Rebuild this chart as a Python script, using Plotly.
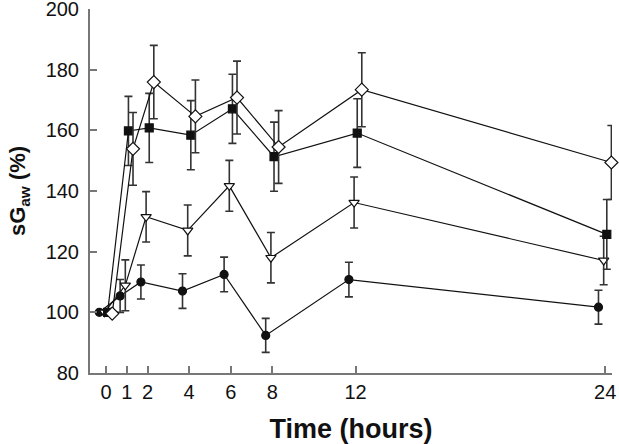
import plotly.graph_objects as go

times = [0, 1, 2, 4, 6, 8, 12, 24]
tick_labels = ["0", "1", "2", "4", "6", "8", "12", "24"]

circle_vals = [100, 105.4, 110, 107, 112.5, 92.4, 110.8, 101.7]
circle_err = [0, 5.4, 5.6, 5.7, 5.7, 5.6, 5.7, 5.6]

tri_vals = [100, 108.9, 131.5, 127, 141.7, 118, 136.2, 117.1]
tri_err = [0, 8.4, 8.3, 8.4, 8.4, 8.3, 8.4, 8.0]

square_vals = [100, 159.8, 160.8, 158.4, 167.1, 151.3, 159.1, 125.7]
square_err = [0, 11.4, 11.4, 11.4, 11.4, 11.4, 11.3, 11.5]

diamond_vals = [99.6, 153.9, 175.9, 164.6, 170.8, 154.5, 173.4, 149.4]
diamond_err = [0, 12, 12.1, 12, 12, 12, 12.2, 12.2]

# horizontal jitter of each group around the nominal time
offsets = {"circle": -0.32, "tri": -0.07, "square": 0.08, "diamond": 0.3}

fig = go.Figure()

def add(vals, err, off, symbol, size, fill):
    fig.add_trace(go.Scatter(
        x=[t + off for t in times], y=vals,
        mode="lines+markers",
        line=dict(color="#111", width=1.2),
        marker=dict(symbol=symbol, size=size, color=fill,
                    line=dict(color="#111", width=1.2)),
        error_y=dict(type="data", array=err, visible=True,
                     color="#333", thickness=1.6, width=4),
        cliponaxis=False,
        showlegend=False,
    ))

add(circle_vals, circle_err, offsets["circle"], "circle", 8, "#111")
add(tri_vals, tri_err, offsets["tri"], "triangle-down", 9, "white")
add(square_vals, square_err, offsets["square"], "square", 8, "#111")
add(diamond_vals, diamond_err, offsets["diamond"], "diamond", 10, "white")

font_family = "Arial, Liberation Sans, sans-serif"

fig.update_layout(
    width=619, height=444,
    margin=dict(l=90, r=7, t=9, b=71),
    plot_bgcolor="white", paper_bgcolor="white",
    font=dict(family=font_family, size=20, color="#111"),
    xaxis=dict(
        range=[-0.768, 24.33],
        tickmode="array", tickvals=times, ticktext=tick_labels,
        ticks="inside", ticklen=7, tickcolor="#777", tickwidth=1.5,
        showline=True, linecolor="#777", linewidth=2,
        showgrid=False, zeroline=False, automargin=False,
        ticklabeloverflow="allow",
        tickfont=dict(size=20),
        title=dict(text="<b>Time (hours)</b>", font=dict(size=27), standoff=19),
    ),
    yaxis=dict(
        range=[80, 200],
        tickvals=[80, 100, 120, 140, 160, 180, 200],
        ticks="inside", ticklen=7, tickcolor="#777", tickwidth=1.5,
        showline=True, linecolor="#777", linewidth=2,
        showgrid=False, zeroline=False, automargin=False,
        ticklabeloverflow="allow", ticklabelstandoff=5,
        tickfont=dict(size=20),
        title=dict(text="<b>sG<sub>aw</sub> (%)</b>", font=dict(size=22), standoff=14),
    ),
)

fig.write_html("out.html", config={"displayModeBar": False},
               post_script="document.body.style.margin='0';")
